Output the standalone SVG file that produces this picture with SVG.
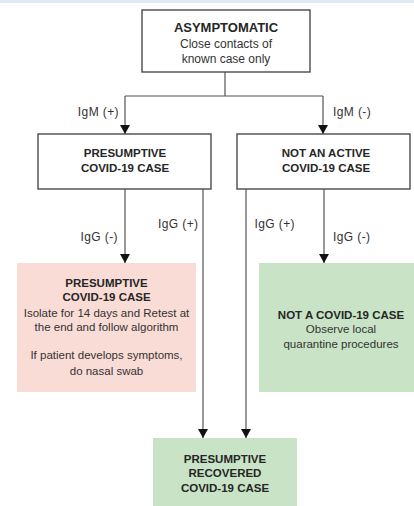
<svg xmlns="http://www.w3.org/2000/svg" width="414" height="506" viewBox="0 0 414 506">
<style>
text{font-family:"Liberation Sans",Arial,sans-serif;fill:#262626;text-anchor:middle}
.b{font-weight:bold;font-size:11.5px}
.t{font-weight:bold;font-size:13px}
.r{font-size:11.5px;fill:#333}
.r12{font-size:12px;fill:#333}
.l{font-size:12px;letter-spacing:0.4px;fill:#333}
.box{fill:#fff;stroke:#4a4a4a;stroke-width:1.4}
.c{fill:none;stroke:#555;stroke-width:1.2}
</style>
<defs>
<marker id="ah" markerUnits="userSpaceOnUse" viewBox="0 -5 9 10" refX="9" refY="0" markerWidth="9" markerHeight="10" orient="auto">
<path d="M0,-5 L9,0 L0,5 z" fill="#111"/>
</marker>
</defs>
<rect x="0" y="0" width="414" height="3" fill="#e3e8f5"/>
<g id="connectors">
<path class="c" d="M225 72 V96 M125 96 H323"/>
<path class="c" d="M125 96 V134" marker-end="url(#ah)"/>
<path class="c" d="M323 96 V134" marker-end="url(#ah)"/>
<path class="c" d="M125 189 V263" marker-end="url(#ah)"/>
<path class="c" d="M203 189 V438" marker-end="url(#ah)"/>
<path class="c" d="M246 189 V438" marker-end="url(#ah)"/>
<path class="c" d="M324 189 V263" marker-end="url(#ah)"/>
<text class="l" x="119" y="116" style="text-anchor:end">IgM (+)</text>
<text class="l" x="333" y="116" style="text-anchor:start">IgM (-)</text>
<text class="l" x="118" y="241" style="text-anchor:end">IgG (-)</text>
<text class="l" x="158" y="228" style="text-anchor:start">IgG (+)</text>
<text class="l" x="295" y="228" style="text-anchor:end">IgG (+)</text>
<text class="l" x="333" y="241" style="text-anchor:start">IgG (-)</text>
</g>
<g id="asymptomatic">
<rect class="box" x="142" y="10" width="168" height="62"/>
<text class="t" x="226" y="31.5">ASYMPTOMATIC</text>
<text class="r12" x="226" y="47.5">Close contacts of</text>
<text class="r12" x="226" y="62.5">known case only</text>
</g>
<g id="presumptive">
<rect class="box" x="38" y="134" width="173" height="55"/>
<text class="b" x="125" y="157">PRESUMPTIVE</text>
<text class="b" x="125" y="172">COVID-19 CASE</text>
</g>
<g id="not-active">
<rect class="box" x="237" y="134" width="173" height="55"/>
<text class="b" x="326" y="157">NOT AN ACTIVE</text>
<text class="b" x="326" y="172">COVID-19 CASE</text>
</g>
<g id="presumptive-isolate">
<rect x="17" y="263" width="179" height="129" fill="#fadcd6"/>
<text class="b" x="106.5" y="287">PRESUMPTIVE</text>
<text class="b" x="106.5" y="301">COVID-19 CASE</text>
<text class="r" x="106.5" y="317">Isolate for 14 days and Retest at</text>
<text class="r" x="106.5" y="331">the end and follow algorithm</text>
<text class="r" x="106.5" y="359">If patient develops symptoms,</text>
<text class="r" x="106.5" y="375">do nasal swab</text>
</g>
<g id="not-covid">
<rect x="259" y="263" width="155" height="129" fill="#c8e3c5"/>
<text class="b" x="341" y="319">NOT A COVID-19 CASE</text>
<text class="r" x="341" y="333">Observe local</text>
<text class="r" x="341" y="348">quarantine procedures</text>
</g>
<g id="recovered">
<rect x="153" y="438" width="144" height="68" fill="#c8e3c5"/>
<text class="b" x="225" y="463">PRESUMPTIVE</text>
<text class="b" x="225" y="477">RECOVERED</text>
<text class="b" x="225" y="492">COVID-19 CASE</text>
</g>
</svg>
